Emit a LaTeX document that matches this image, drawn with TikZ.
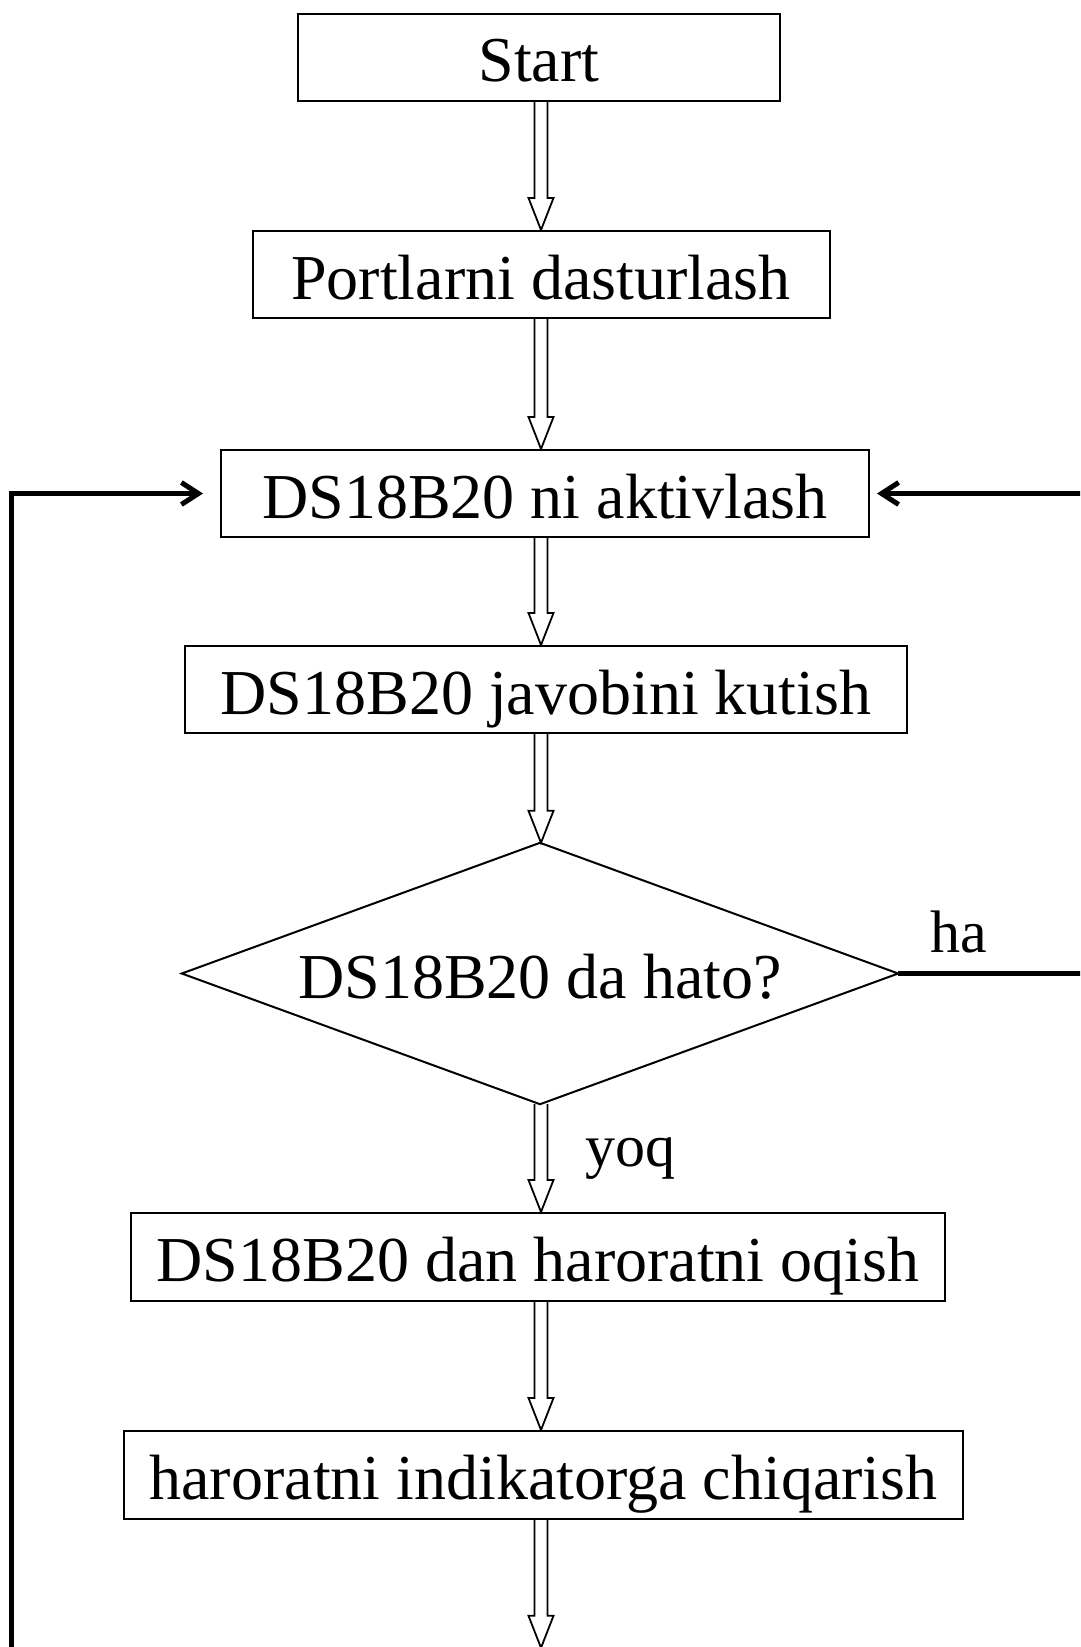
\documentclass[tikz,border=0pt]{standalone}
\usepackage{fontspec}
\setmainfont{Liberation Serif}
\usetikzlibrary{calc,arrows.meta}
\newcommand\bigfs{\fontsize{64}{70}\selectfont}
\newcommand\labfs{\fontsize{60}{66}\selectfont}
\newcommand\harrow[2]{\draw[hol] let \p1=(#1.south -| axis), \p2=(#2.north -| axis) in
  (\x1-6.5pt,\y1) -- (\x1-6.5pt,\y2+32pt) -- (\x1-12.5pt,\y2+32pt) -- (\x1,\y2)
  -- (\x1+12.5pt,\y2+32pt) -- (\x1+6.5pt,\y2+32pt) -- (\x1+6.5pt,\y1);}
\tikzset{
  box/.style={draw, line width=2pt, inner sep=0pt, minimum height=87pt,
    text height=50pt, text depth=1pt, font=\bigfs},
  hol/.style={draw, line width=1.8pt, line join=miter},
  fb/.style={line width=5pt, -{Straight Barb[length=17pt,width=22pt]}},
  pt/.style={inner sep=0pt, minimum size=0pt},
  lab/.style={font=\labfs, inner sep=0pt, anchor=base west}
}
\begin{document}
\begin{tikzpicture}[x=1pt,y=-1pt]
\clip (0,0) rectangle (1080,1647);
\fill[white] (0,0) rectangle (1080,1647);
\coordinate (axis) at (541,0);
\node[box, minimum width=482pt] (start) at (539,57) {Start};
\node[box, minimum width=577pt] (port) at (541,274.5) {Portlarni dasturlash};
\node[box, minimum width=648pt] (akt) at (545,493.5) {DS18B20 ni aktivlash};
\node[box, minimum width=722pt] (jav) at (546,689.5) {DS18B20 javobini kutish};
\node[inner sep=0pt, minimum width=716pt, minimum height=261pt,
  text height=50pt, text depth=1pt, font=\bigfs] (dia) at (540,973.5) {DS18B20 da hato?};
\draw[line width=2pt, line join=miter] (dia.north) -- (dia.east) -- (dia.south) -- (dia.west) -- cycle;
\node[box, minimum width=814pt, minimum height=88pt] (oq) at (538,1257) {DS18B20 dan haroratni oqish};
\node[box, minimum width=839pt, minimum height=88pt] (ind) at (543.5,1475) {haroratni indikatorga chiqarish};
\node[pt] (bot) at (541,1648) {};
\node[pt] (lb) at (11,1660) {};
\node[pt] (rt) at (1090,493.5) {};
\node[pt] (re) at (1090,973.5) {};
\harrow{start}{port}
\harrow{port}{akt}
\harrow{akt}{jav}
\harrow{jav}{dia}
\harrow{dia}{oq}
\harrow{oq}{ind}
\harrow{ind}{bot}
\draw[fb, shorten >=17pt] (lb.center) |- (akt.west);
\draw[fb, shorten >=7pt] (rt.center) -- (akt.east);
\draw[line width=5pt] (dia.east) -- (re.center);
\node[lab] (ha) at (930,952) {ha};
\node[lab] (yoq) at (585,1166) {yoq};
\end{tikzpicture}
\end{document}
